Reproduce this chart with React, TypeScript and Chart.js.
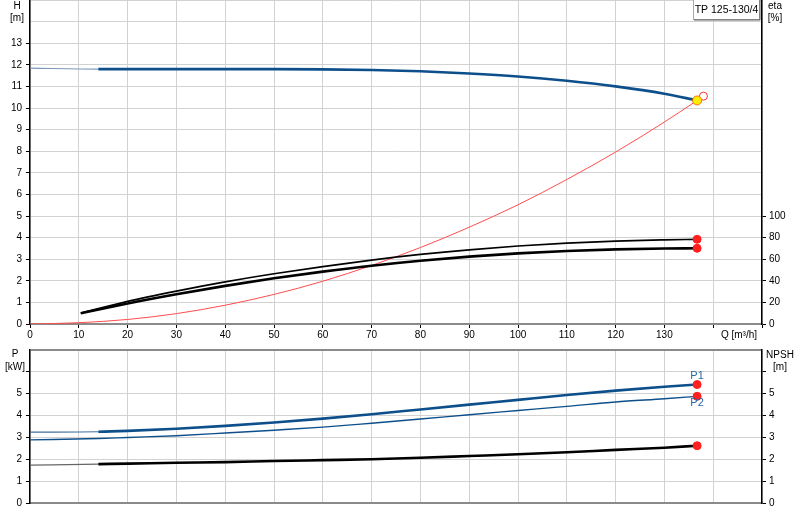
import React, { useEffect, useRef } from "react";
import { Chart, registerables } from "chart.js";

Chart.register(...registerables);

const FONT = '"Liberation Sans", Arial, Helvetica, sans-serif';

// ---- data (Q in m³/h) ----
const qPump = [0, 14, 20, 30, 40, 50, 60, 70, 80, 90, 100, 110, 120, 130, 136.7];
const headValues = [11.85, 11.8, 11.8, 11.8, 11.8, 11.8, 11.79, 11.76, 11.7, 11.6, 11.46, 11.26, 11.0, 10.66, 10.35];
const qSystem = [0, 10, 20, 30, 40, 50, 60, 70, 80, 90, 100, 110, 120, 130, 136.7];
const systemValues = [0, 0.06, 0.21, 0.48, 0.87, 1.37, 1.98, 2.71, 3.54, 4.48, 5.52, 6.69, 7.96, 9.35, 10.35];
const qEta = [10.4, 20, 30, 40, 50, 60, 70, 80, 90, 100, 110, 120, 130, 136.7];
const etaUpper = [10, 21, 30.5, 39, 46.5, 53.2, 59.2, 64.4, 68.7, 72.2, 74.9, 76.8, 77.9, 78.4];
const etaLower = [10, 19, 27.5, 35.3, 42.3, 48.5, 54, 58.6, 62.4, 65.4, 67.6, 69.1, 69.9, 70.1];
const p1Values = [3.24, 3.26, 3.3, 3.4, 3.53, 3.68, 3.86, 4.06, 4.28, 4.5, 4.72, 4.94, 5.14, 5.32, 5.42];
const p2Values = [2.89, 2.95, 3.0, 3.08, 3.2, 3.33, 3.47, 3.65, 3.84, 4.04, 4.23, 4.42, 4.62, 4.77, 4.88];
const npshValues = [1.73, 1.78, 1.8, 1.84, 1.87, 1.92, 1.96, 2.0, 2.07, 2.15, 2.23, 2.32, 2.43, 2.53, 2.62];
const openPointQ = [138];
const openPointH = [10.55];

const qLabelMax = 130;
const hLabelMax = 13;
const etaLabelMax = 100;
const pLabelMax = 5;
const pTickMax = 6;
const modelName = "TP 125-130/4";
const seriesLabels = ["P1", "P2"];

const pts = (xs: number[], ys: number[]) => xs.map((x, i) => ({ x, y: ys[i] }));
const last = (xs: number[], ys: number[]) => [{ x: xs[xs.length - 1], y: ys[ys.length - 1] }];

const GRID = "#d2d2d2";
const BLUE = "#0d4f8b";
const RED = "#ff1f1f";

export default function App() {
  const topRef = useRef<HTMLCanvasElement>(null);
  const botRef = useRef<HTMLCanvasElement>(null);

  useEffect(() => {
    Chart.defaults.font.family = FONT;
    Chart.defaults.font.size = 10;
    Chart.defaults.color = "#000";

    const text = (ctx: CanvasRenderingContext2D, s: string, x: number, y: number, align: CanvasTextAlign = "center", color = "#000", size = 10) => {
      ctx.save();
      ctx.font = `${size}px ${FONT}`;
      ctx.fillStyle = color;
      ctx.textAlign = align;
      ctx.textBaseline = "middle";
      ctx.fillText(s, x, y);
      ctx.restore();
    };

    const topPlugin = {
      id: "topTexts",
      afterDraw(chart: any) {
        const ctx = chart.ctx as CanvasRenderingContext2D;
        text(ctx, "H", 17, 6);
        text(ctx, "[m]", 17, 18);
        text(ctx, "eta", 775, 6);
        text(ctx, "[%]", 775, 18);
        text(ctx, "Q [m³/h]", 739, 335);
        ctx.save();
        ctx.fillStyle = "#fff";
        ctx.fillRect(693, -1, 66, 20);
        ctx.strokeStyle = "#a8a8a8";
        ctx.lineWidth = 1;
        ctx.strokeRect(693.5, -0.5, 66, 20);
        ctx.strokeStyle = "#606060";
        ctx.beginPath();
        ctx.moveTo(760, 0);
        ctx.lineTo(760, 20);
        ctx.lineTo(694, 20);
        ctx.stroke();
        ctx.restore();
        text(ctx, modelName, 726.5, 10, "center", "#000", 10.5);
      },
    };

    const botPlugin = {
      id: "botTexts",
      afterDraw(chart: any) {
        const ctx = chart.ctx as CanvasRenderingContext2D;
        text(ctx, "P", 15, 9);
        text(ctx, "[kW]", 15, 22);
        text(ctx, "NPSH", 780, 10);
        text(ctx, "[m]", 780, 22);
        const xs = chart.scales.x;
        const ys = chart.scales.y;
        const q = qPump[qPump.length - 1];
        const px = xs.getPixelForValue(q);
        text(ctx, seriesLabels[0], px, ys.getPixelForValue(p1Values[p1Values.length - 1]) - 9, "center", "#2a67a8", 11);
        text(ctx, seriesLabels[1], px, ys.getPixelForValue(p2Values[p2Values.length - 1]) + 7, "center", "#2a67a8", 11);
      },
    };

    const marker = (data: any[], yAxisID: string, fill = RED, border = RED, r = 4) => ({
      type: "scatter" as const,
      data,
      yAxisID,
      showLine: false,
      pointRadius: r,
      pointBackgroundColor: fill,
      pointBorderColor: border,
      pointBorderWidth: 1,
      order: 0,
    });

    const line = (data: any[], yAxisID: string, color: string, width: number, order: number, thinColor?: string) => ({
      type: "line" as const,
      data,
      yAxisID,
      borderColor: color,
      borderWidth: width,
      pointRadius: 0,
      cubicInterpolationMode: "monotone" as const,
      order,
      segment: thinColor
        ? {
            borderWidth: (c: any) => (c.p0.parsed.x < 14 ? 1.2 : width),
            borderColor: (c: any) => (c.p0.parsed.x < 14 ? thinColor : color),
          }
        : undefined,
    });

    const noPadV = (w: number) => (s: any) => {
      s.width = w;
      s.paddingTop = 0;
      s.paddingBottom = 0;
    };

    const xScale = (height: number, showLabels: boolean) => ({
      type: "linear" as const,
      min: 0,
      max: 150,
      ticks: {
        stepSize: 10,
        autoSkip: false,
        maxRotation: 0,
        display: showLabels,
        padding: 1,
        callback: (v: any) => (v <= qLabelMax ? v : ""),
      },
      grid: {
        color: GRID,
        lineWidth: 1,
        drawTicks: showLabels,
        tickLength: 4,
        tickColor: "#000",
      },
      border: { color: "#8a8a8a", width: 2 },
      afterFit: (s: any) => {
        s.height = height;
        s.paddingLeft = 0;
        s.paddingRight = 0;
      },
    });

    const topChart = new Chart(topRef.current as HTMLCanvasElement, {
      type: "line",
      data: {
        datasets: [
          marker(last(qPump, headValues), "y", "#ffee00", "#f07000", 4.5),
          marker(pts(openPointQ, openPointH), "y", "#ffffff", "#ff3030", 4),
          marker(last(qEta, etaUpper), "eta"),
          marker(last(qEta, etaLower), "eta"),
          line(pts(qPump, headValues), "y", BLUE, 2.6, 1, "#7d98bb"),
          line(pts(qSystem, systemValues), "y", "#ff4d4d", 1, 3),
          line(pts(qEta, etaUpper), "eta", "#000", 1.7, 2),
          line(pts(qEta, etaLower), "eta", "#000", 2.6, 2),
        ] as any,
      },
      options: {
        animation: false,
        responsive: false,
        layout: { padding: 0, autoPadding: false } as any,
        plugins: { legend: { display: false }, tooltip: { enabled: false } },
        scales: {
          x: xScale(21, true) as any,
          y: {
            type: "linear",
            position: "left",
            min: 0,
            max: 15,
            ticks: { stepSize: 1, padding: 4, callback: (v: any) => (v <= hLabelMax ? v : "") },
            grid: {
              color: GRID,
              lineWidth: 1,
              tickLength: 4,
              tickColor: (c: any) => (c.tick && c.tick.value <= hLabelMax ? "#000" : "rgba(0,0,0,0)"),
            },
            border: { color: "#000", width: 1.5 },
            afterFit: noPadV(30),
          } as any,
          eta: {
            type: "linear",
            position: "right",
            min: 0,
            max: 300,
            ticks: { stepSize: 20, padding: 3, callback: (v: any) => (v <= etaLabelMax ? v : "") },
            grid: {
              drawOnChartArea: false,
              tickLength: 4,
              tickColor: (c: any) => (c.tick && c.tick.value <= etaLabelMax ? "#000" : "rgba(0,0,0,0)"),
            },
            border: { color: "#000", width: 1.5 },
            afterFit: noPadV(38),
          } as any,
        },
      },
      plugins: [topPlugin],
    });

    const botChart = new Chart(botRef.current as HTMLCanvasElement, {
      type: "line",
      data: {
        datasets: [
          marker(last(qPump, p1Values), "y"),
          marker(last(qPump, p2Values), "y"),
          marker(last(qPump, npshValues), "npsh"),
          line(pts(qPump, p1Values), "y", BLUE, 2.6, 1, "#3f6f9f"),
          line(pts(qPump, p2Values), "y", BLUE, 1.4, 1),
          line(pts(qPump, npshValues), "npsh", "#000", 2.6, 1, "#666"),
        ] as any,
      },
      options: {
        animation: false,
        responsive: false,
        layout: { padding: { top: 5, left: 0, right: 0, bottom: 0 }, autoPadding: false } as any,
        plugins: { legend: { display: false }, tooltip: { enabled: false } },
        scales: {
          x: xScale(17, false) as any,
          y: {
            type: "linear",
            position: "left",
            min: 0,
            max: 7,
            ticks: { stepSize: 1, padding: 4, callback: (v: any) => (v <= pLabelMax ? v : "") },
            grid: {
              color: (c: any) => (c.tick && c.tick.value === 7 ? "#8a8a8a" : GRID),
              lineWidth: (c: any) => (c.tick && c.tick.value === 7 ? 2 : 1),
              tickLength: 4,
              tickColor: (c: any) => (c.tick && c.tick.value <= pTickMax ? "#000" : "rgba(0,0,0,0)"),
            },
            border: { color: "#000", width: 1.5 },
            afterFit: noPadV(30),
          } as any,
          npsh: {
            type: "linear",
            position: "right",
            min: 0,
            max: 7,
            ticks: { stepSize: 1, padding: 3, callback: (v: any) => (v <= pLabelMax ? v : "") },
            grid: {
              drawOnChartArea: false,
              tickLength: 4,
              tickColor: (c: any) => (c.tick && c.tick.value <= pTickMax ? "#000" : "rgba(0,0,0,0)"),
            },
            border: { color: "#000", width: 1.5 },
            afterFit: noPadV(38),
          } as any,
        },
      },
      plugins: [botPlugin],
    });

    return () => {
      topChart.destroy();
      botChart.destroy();
    };
  }, []);

  return (
    <div style={{ position: "absolute", left: 0, top: 0, width: 800, height: 520, background: "#fff", overflow: "hidden" }}>
      <canvas ref={topRef} width={800} height={345} style={{ position: "absolute", left: 0, top: 0 }} />
      <canvas ref={botRef} width={800} height={175} style={{ position: "absolute", left: 0, top: 345 }} />
    </div>
  );
}
